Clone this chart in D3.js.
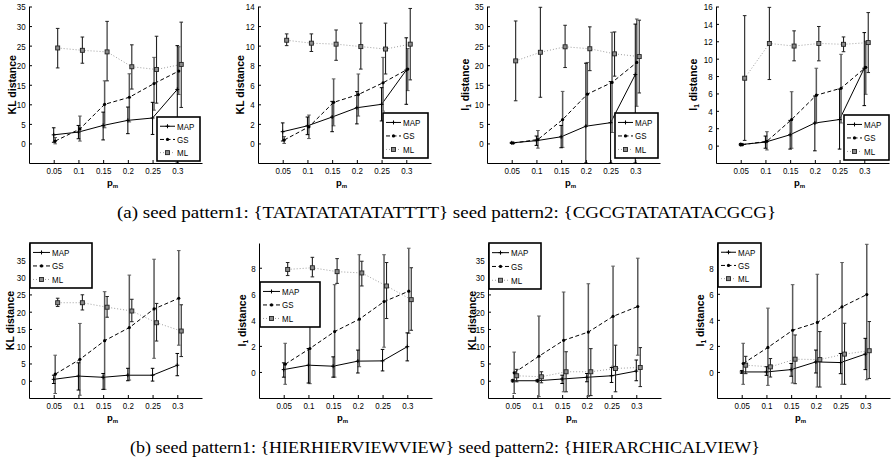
<!DOCTYPE html>
<html><head><meta charset="utf-8">
<script src="https://cdn.jsdelivr.net/npm/d3@7"></script>
<style>body{margin:0;background:#fff}svg{display:block}</style>
</head><body>
<script>
// ---------------- DATA ----------------
const pm = [0.05, 0.1, 0.15, 0.2, 0.25, 0.3];
const pmLabels = ["0.05", "0.1", "0.15", "0.2", "0.25", "0.3"];
const seriesNames = ["MAP", "GS", "ML"];
const yLabels = ["KL distance", "KL distance", "l1 distance", "l1 distance",
                 "KL distance", "l1 distance", "KL distance", "l1 distance"];
const yTicks35 = [0, 5, 10, 15, 20, 25, 30, 35];
const yTicks14 = [0, 2, 4, 6, 8, 10, 12, 14];
const yTicks16 = [0, 2, 4, 6, 8, 10, 12, 14, 16];
const yTicks8 = [0, 2, 4, 6, 8];
const captions = ["(a) seed pattern1: {TATATATATATATTTT} seed pattern2: {CGCGTATATATACGCG}",
                  "(b) seed pattern1: {HIERHIERVIEWVIEW} seed pattern2: {HIERARCHICALVIEW}"];

// each: rows = MAP, GS, ML
const p1Mean = [[2.2, 2.9, 4.6, 5.9, 6.5, 13.8], [0.6, 3.7, 10.0, 11.8, 15.3, 18.5], [24.4, 23.8, 23.4, 19.6, 18.9, 20.2]];
const p1Lo   = [[0.3, 1.2, 0.9, 2.5, 2.3, -5], [-0.1, 0.6, 4.0, 5.5, 8.5, 12.5], [19.3, 20.5, 16.0, 13.9, 10.3, 9.2]];
const p1Hi   = [[4.0, 4.6, 8.0, 9.3, 10.5, 25.0], [1.5, 7.0, 16.0, 17.8, 22.0, 24.7], [29.4, 27.2, 31.2, 25.2, 27.4, 31.0]];

const p2Mean = [[1.2, 1.8, 2.7, 3.65, 4.0, 7.5], [0.35, 1.7, 4.2, 5.0, 6.2, 7.6], [10.55, 10.25, 10.15, 9.9, 9.65, 10.15]];
const p2Lo   = [[0.25, 0.9, 1.2, 2.0, 2.3, 4.0], [0.0, 0.5, 1.8, 2.8, 3.3, 5.4], [10.0, 9.4, 8.5, 7.6, 7.1, 6.5]];
const p2Hi   = [[2.1, 2.7, 4.3, 5.3, 5.7, 10.8], [0.7, 2.9, 6.6, 7.1, 8.8, 9.7], [11.2, 11.2, 11.6, 12.3, 12.3, 13.8]];

const p3Mean = [[0.15, 0.7, 1.7, 4.4, 5.3, 17.6], [0.1, 1.0, 6.1, 12.6, 15.6, 20.7], [21.1, 23.3, 24.7, 24.2, 22.9, 22.2]];
const p3Lo   = [[0.0, -0.5, -1.1, -5, -5, -5], [0.0, -1.2, -1.0, 4.6, 2.8, 9.5], [10.9, 11.8, 19.4, 18.6, 17.2, 12.9]];
const p3Hi   = [[0.3, 1.9, 4.6, 20.5, 15.8, 30.5], [0.3, 3.3, 13.3, 20.7, 28.4, 31.8], [31.3, 34.8, 30.2, 29.8, 28.5, 31.5]];

const p4Mean = [[0.12, 0.4, 1.25, 2.6, 3.0, 8.9], [0.1, 0.5, 3.0, 5.8, 6.6, 9.0], [7.75, 11.75, 11.45, 11.75, 11.65, 11.85]];
const p4Lo   = [[0.0, -0.3, -0.4, -0.6, -0.4, 4.6], [0.0, -0.5, -0.3, 2.6, 2.6, 5.9], [0.6, 7.6, 9.75, 9.75, 10.8, 8.4]];
const p4Hi   = [[0.25, 1.1, 2.9, 5.7, 6.5, 13.0], [0.25, 1.6, 6.2, 8.9, 10.5, 12.0], [14.95, 15.9, 13.2, 13.7, 12.5, 15.3]];

const p5Mean = [[0.4, 1.35, 1.0, 1.6, 1.6, 4.5], [1.9, 6.2, 11.6, 15.4, 20.8, 23.9], [22.6, 22.6, 21.3, 20.2, 16.8, 14.4]];
const p5Lo   = [[-0.8, -2.7, -2.5, 0.0, -0.1, 1.45], [-3.7, -4.2, -2.5, 0.2, 6.5, 10.3], [21.5, 20.5, 18.4, 17.1, 11.5, 7.0]];
const p5Hi   = [[1.6, 5.2, 2.1, 3.6, 3.6, 7.9], [7.4, 16.6, 25.8, 30.6, 35.2, 37.7], [23.9, 24.9, 24.4, 23.6, 22.4, 22.0]];

const p6Mean = [[0.18, 0.52, 0.44, 0.83, 0.85, 1.94], [0.59, 1.8, 3.1, 4.05, 5.4, 6.2], [7.87, 8.0, 7.7, 7.6, 6.6, 5.55]];
const p6Lo   = [[-0.4, -0.85, -0.4, -0.08, 0.08, 0.85], [-0.95, -0.9, -0.4, 0.4, 1.9, 2.97], [7.4, 7.3, 6.8, 6.6, 4.1, 3.2]];
const p6Hi   = [[0.7, 1.8, 1.16, 1.68, 1.73, 3.0], [2.2, 4.65, 6.7, 9.0, 9.0, 9.5], [8.4, 8.8, 8.7, 8.5, 8.4, 8.0]];

const p7Mean = [[0.0, 0.0, 0.5, 1.0, 1.44, 2.8], [2.3, 7.1, 11.7, 14.1, 18.65, 21.5], [1.44, 1.15, 2.6, 2.6, 3.56, 3.85]];
const p7Lo   = [[-0.3, -0.3, -0.8, -0.3, -0.5, 0.0], [-3.7, -4.6, -3.2, -4.6, 4.2, 7.4], [-0.3, -0.6, -3.2, -4.3, -3.2, -1.7]];
const p7Hi   = [[0.3, 0.3, 1.6, 2.1, 3.85, 6.0], [8.3, 18.75, 25.7, 28.1, 33.2, 35.5], [3.3, 2.6, 8.4, 9.3, 10.3, 9.6]];

const p8Mean = [[0.0, 0.0, 0.18, 0.77, 0.72, 1.37], [0.65, 1.88, 3.2, 3.8, 5.0, 5.94], [0.52, 0.39, 0.98, 0.95, 1.37, 1.63]];
const p8Lo   = [[-0.1, -0.26, -0.33, -0.08, -0.13, 0.18], [-0.95, -1.03, -0.85, -1.16, -0.95, -0.6], [-0.13, -0.39, -0.9, -1.16, -0.95, -0.5]];
const p8Hi   = [[0.1, 0.4, 0.65, 1.68, 1.42, 2.58], [2.2, 4.9, 6.7, 7.5, 8.4, 9.8], [1.2, 1.03, 2.84, 3.1, 3.74, 3.87]];

// ---------------- LAYOUT ----------------
const W = 893, H = 465;
const TOP = [6.5, 163], BOT = [243, 398];
const panels = [
  {left: 29,  rows: TOP, dom: [-5, 35],  ticks: yTicks35, ylx: 12,  leg: [157, 117, 43, 44], m: p1Mean, lo: p1Lo, hi: p1Hi},
  {left: 258, rows: TOP, dom: [-2, 14],  ticks: yTicks14, ylx: 240, leg: [383, 113, 45, 45], m: p2Mean, lo: p2Lo, hi: p2Hi},
  {left: 487, rows: TOP, dom: [-5, 35],  ticks: yTicks35, ylx: 465, leg: [615, 113, 43, 45], m: p3Mean, lo: p3Lo, hi: p3Hi},
  {left: 716, rows: TOP, dom: [-2, 16],  ticks: yTicks16, ylx: 693, leg: [844, 115, 45, 45], m: p4Mean, lo: p4Lo, hi: p4Hi},
  {left: 29,  rows: BOT, dom: [-5, 39.9], ticks: yTicks35, ylx: 10,  leg: [30, 243, 62, 45], m: p5Mean, lo: p5Lo, hi: p5Hi},
  {left: 259, rows: BOT, dom: [-2, 9.9], ticks: yTicks8,  ylx: 242, leg: [260, 282, 60, 45], m: p6Mean, lo: p6Lo, hi: p6Hi},
  {left: 488, rows: BOT, dom: [-5, 39.9], ticks: yTicks35, ylx: 472, leg: [489, 243, 52, 46], m: p7Mean, lo: p7Lo, hi: p7Hi},
  {left: 717, rows: BOT, dom: [-2, 9.9], ticks: yTicks8,  ylx: 700, leg: [718, 243, 43, 44], m: p8Mean, lo: p8Lo, hi: p8Hi}
];
const xOffsets = [0, 0.003, 0.008];
const PLOTW = 173;
const FONT = "'Liberation Sans', Arial, Helvetica, sans-serif";

const svg = d3.select("body").append("svg").attr("width", W).attr("height", H)
  .style("font-family", FONT);

const styles = [
  {stroke: "#000", dash: null, width: 1, bar: "#000", barW: 1},
  {stroke: "#000", dash: "4,2.5", width: 1, bar: "#5a5a5a", barW: 1.5},
  {stroke: "#a0a0a0", dash: "1,2", width: 1, bar: "#222", barW: 1.1}
];

function marker(g, k, cx, cy) {
  if (k === 0) {
    g.append("path").attr("d", `M${cx - 2},${cy}H${cx + 2}M${cx},${cy - 2}V${cy + 2}`)
      .attr("stroke", "#000").attr("stroke-width", 1);
  } else if (k === 1) {
    g.append("circle").attr("cx", cx).attr("cy", cy).attr("r", 1.6).attr("fill", "#000");
  } else {
    g.append("rect").attr("x", cx - 2).attr("y", cy - 2).attr("width", 4).attr("height", 4)
      .attr("fill", "#8a8a8a").attr("stroke", "#222").attr("stroke-width", 0.9);
  }
}

panels.forEach((P, pi) => {
  const g = svg.append("g");
  const x = d3.scaleLinear().domain([0, 0.35]).range([P.left, P.left + PLOTW]);
  const y = d3.scaleLinear().domain(P.dom).range([P.rows[1], P.rows[0]]);
  const clipId = "clip" + pi;
  svg.append("clipPath").attr("id", clipId).append("rect")
    .attr("x", P.left).attr("y", P.rows[0] - 1).attr("width", PLOTW).attr("height", P.rows[1] - P.rows[0] + 1);

  // axes
  const xa = g.append("g").attr("transform", `translate(0,${P.rows[1]})`)
    .call(d3.axisBottom(x).tickValues(pm).tickFormat((d, i) => pmLabels[i]).tickSize(-3).tickSizeOuter(0).tickPadding(4));
  const ya = g.append("g").attr("transform", `translate(${P.left},0)`)
    .call(d3.axisLeft(y).tickValues(P.ticks).tickSize(-3).tickSizeOuter(0).tickPadding(4));
  [xa, ya].forEach(a => {
    a.selectAll("text").attr("font-size", 9.5).attr("font-family", FONT).attr("fill", "#000");
    a.selectAll("line").attr("stroke", "#000");
    a.select(".domain").attr("stroke", "#000").attr("stroke-width", 1);
  });
  xa.selectAll("text").attr("transform", "scale(0.84,1)");
  ya.selectAll("text").attr("transform", "scale(0.84,1)").attr("dy", "0.36em");

  // y label
  const yl = g.append("text").attr("transform", `translate(${P.ylx},${(P.rows[0] + P.rows[1]) / 2}) rotate(-90)`)
    .attr("text-anchor", "middle").attr("font-weight", "bold").attr("font-size", 10.5)
    .attr("dy", "0.35em");
  const lab = yLabels[pi];
  if (lab.startsWith("l1")) {
    yl.append("tspan").text("l");
    yl.append("tspan").text("1").attr("font-size", 6.5).attr("dy", 2.5);
    yl.append("tspan").text(" distance").attr("dy", -2.5);
  } else {
    yl.text(lab);
  }
  // x label
  const xl = g.append("text").attr("x", P.left + PLOTW / 2 - 3).attr("y", P.rows[1] + 22.5)
    .attr("text-anchor", "middle").attr("font-weight", "bold").attr("font-size", 9.5);
  xl.append("tspan").text("p");
  xl.append("tspan").text("m").attr("font-size", 6).attr("dy", 2.5);

  const pg = g.append("g").attr("clip-path", `url(#${clipId})`);
  // lines
  [2, 1, 0].forEach(k => {
    const st = styles[k];
    const line = d3.line().x((d, i) => x(pm[i] + xOffsets[k])).y(d => y(d));
    pg.append("path").datum(P.m[k]).attr("d", line).attr("fill", "none")
      .attr("stroke", st.stroke).attr("stroke-width", st.width)
      .attr("stroke-dasharray", st.dash);
  });
  // error bars
  [2, 1, 0].forEach(k => {
    const st = styles[k];
    P.m[k].forEach((v, i) => {
      const cx = x(pm[i] + xOffsets[k]);
      const y1 = y(P.lo[k][i]), y2 = y(P.hi[k][i]);
      pg.append("line").attr("x1", cx).attr("x2", cx).attr("y1", y1).attr("y2", y2)
        .attr("stroke", st.bar).attr("stroke-width", st.barW);
      [y1, y2].forEach(yy => pg.append("line").attr("x1", cx - 1.8).attr("x2", cx + 1.8)
        .attr("y1", yy).attr("y2", yy).attr("stroke", st.bar).attr("stroke-width", 1));
    });
  });
  // markers
  [2, 1, 0].forEach(k => {
    P.m[k].forEach((v, i) => marker(pg, k, x(pm[i] + xOffsets[k]), y(v)));
  });

  // legend
  const [lx, ly, lw, lh] = P.leg;
  const lg = g.append("g");
  lg.append("rect").attr("x", lx).attr("y", ly).attr("width", lw).attr("height", lh)
    .attr("fill", "#fff").attr("stroke", "#000").attr("stroke-width", 1.6);
  const sampleLen = lw > 50 ? 17 : 15;
  seriesNames.forEach((nm, k) => {
    const ry = ly + lh * (0.21 + 0.3 * k);
    const st = styles[k];
    lg.append("line").attr("x1", lx + 3).attr("x2", lx + 3 + sampleLen).attr("y1", ry).attr("y2", ry)
      .attr("stroke", st.stroke).attr("stroke-width", st.width).attr("stroke-dasharray", st.dash);
    marker(lg, k, lx + 3 + sampleLen / 2, ry);
    lg.append("text").attr("transform", `translate(${lx + 5 + sampleLen},${ry}) scale(0.84,1)`)
      .attr("dy", "0.36em").attr("font-size", 9.5).text(nm);
  });
});

// captions
[[218, 117, 659], [453, 130, 630]].forEach((c, i) => {
  svg.append("text").attr("x", c[1]).attr("y", c[0]).attr("font-family", "'Liberation Serif', 'DejaVu Serif', serif")
    .attr("font-size", 16).attr("textLength", c[2]).attr("lengthAdjust", "spacingAndGlyphs")
    .text(captions[i]);
});
</script>
</body></html>
